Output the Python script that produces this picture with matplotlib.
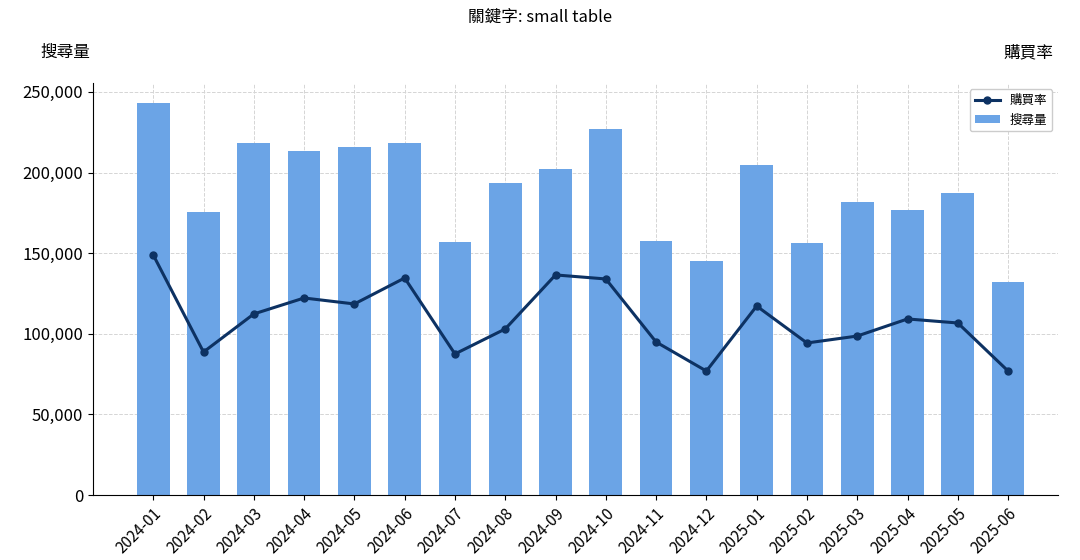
import matplotlib
matplotlib.use("Agg")
import matplotlib.pyplot as plt

plt.rcParams['font.family'] = ['Noto Sans CJK TC', 'DejaVu Sans']

months = ["2024-01","2024-02","2024-03","2024-04","2024-05","2024-06","2024-07","2024-08","2024-09",
          "2024-10","2024-11","2024-12","2025-01","2025-02","2025-03","2025-04","2025-05","2025-06"]
search_volume = [243000,175500,218300,213400,215900,218300,157000,193500,202200,
                 227000,157600,145200,204700,156300,181700,176800,187300,132100]
purchase_rate = [1.489,0.887,1.123,1.222,1.185,1.346,0.875,1.030,1.365,
                 1.340,0.949,0.769,1.172,0.943,0.986,1.092,1.067,0.769]

fig = plt.figure(figsize=(10.8,5.6), dpi=100)
ax = fig.add_axes([0.086, 0.116, 0.894, 0.736])
x = list(range(len(months)))
bars = ax.bar(x, search_volume, width=0.65, color='#6ba4e6', label='搜尋量', zorder=2)
ax.set_ylim(0, 255600)
ax.set_xlim(-1.2, 18.0)
ax.set_xticks(x)
ax.set_xticklabels(months, rotation=45, ha='right', rotation_mode='anchor', fontsize=11)
ax.yaxis.set_major_formatter(matplotlib.ticker.FuncFormatter(lambda v, p: f"{int(v):,}"))
ax.tick_params(axis='y', labelsize=12)
ax.grid(True, linestyle='--', color='#d5d5d5', linewidth=0.7, zorder=0)
ax.set_axisbelow(True)
for s in ['top', 'right']:
    ax.spines[s].set_visible(False)

ax2 = ax.twinx()
line, = ax2.plot(x, purchase_rate, color='#0d3263', linewidth=2.2, marker='o', markersize=5, label='購買率', zorder=3)
ax2.set_ylim(0, 2.556)
ax2.set_yticks([])
for s in ['top', 'right', 'left', 'bottom']:
    ax2.spines[s].set_visible(False)

ax2.legend([line, bars], ['購買率', '搜尋量'], loc='upper right', fontsize=9, framealpha=1, edgecolor='#cccccc')

fig.text(0.5, 0.97, '關鍵字: small table', ha='center', va='center', fontsize=12)
fig.text(0.037, 0.906, '搜尋量', ha='left', va='center', fontsize=12)
fig.text(0.975, 0.906, '購買率', ha='right', va='center', fontsize=12)

fig.savefig('out.png', dpi=100)
